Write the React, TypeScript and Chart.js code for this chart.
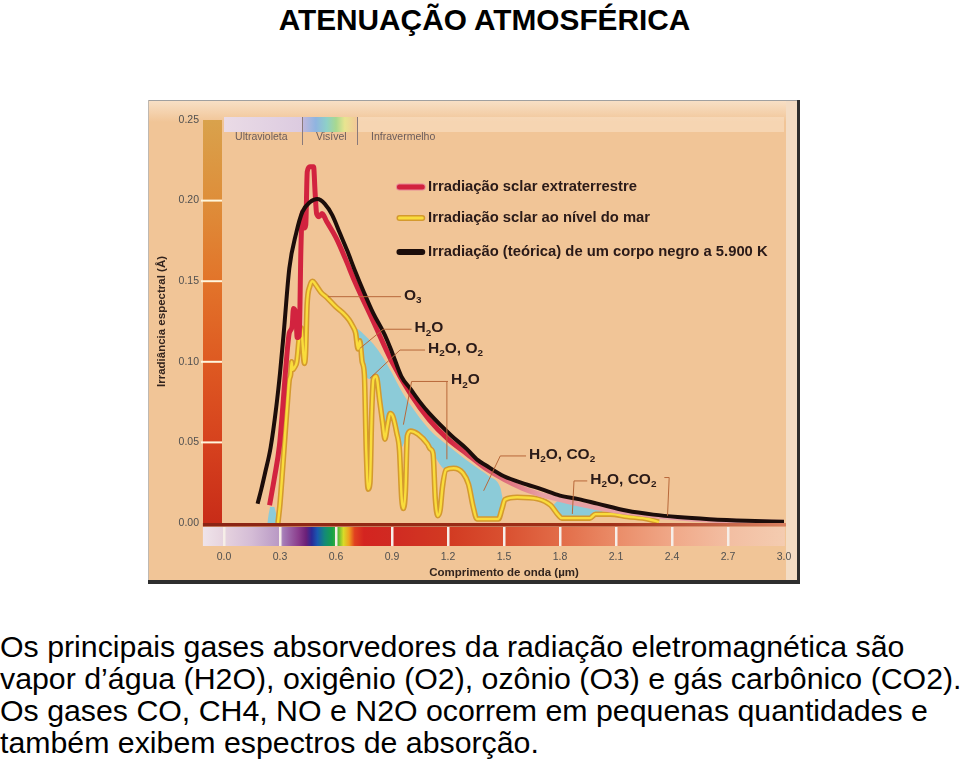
import React, { useEffect, useRef } from "react";
import { Chart, registerables } from "chart.js";

Chart.register(...registerables);

const FONT = '"Liberation Sans", Arial, Helvetica, sans-serif';

// ---------- axis ticks ----------
const xTicks = [0, 0.3, 0.6, 0.9, 1.2, 1.5, 1.8, 2.1, 2.4, 2.7, 3.0];
const xTickLabels = ["0.0", "0.3", "0.6", "0.9", "1.2", "1.5", "1.8", "2.1", "2.4", "2.7", "3.0"];
const yTicks = [0, 0.05, 0.1, 0.15, 0.2, 0.25];
const yTickLabels = ["0.00", "0.05", "0.10", "0.15", "0.20", "0.25"];

// ---------- black body 5900 K ----------
const blackX = [0.18, 0.2, 0.22, 0.25, 0.28, 0.3, 0.32, 0.35, 0.387, 0.42, 0.46, 0.5, 0.54, 0.58, 0.62, 0.66, 0.7, 0.75, 0.8, 0.86, 0.9, 0.95, 1.0, 1.05, 1.1, 1.22, 1.3, 1.36, 1.4, 1.5, 1.62, 1.7, 1.8, 1.9, 2.0, 2.16, 2.3, 2.43, 2.6, 2.8, 3.0];
const blackY = [0.012, 0.021, 0.031, 0.047, 0.072, 0.093, 0.118, 0.158, 0.18, 0.193, 0.199, 0.201, 0.198, 0.191, 0.18, 0.169, 0.157, 0.143, 0.13, 0.117, 0.106, 0.091, 0.083, 0.075, 0.068, 0.054, 0.046, 0.039, 0.036, 0.029, 0.024, 0.021, 0.017, 0.0148, 0.012, 0.0076, 0.0052, 0.0037, 0.0024, 0.0014, 0.0008];

// ---------- extraterrestrial solar irradiance ----------
const solarX = [0.244, 0.27, 0.297, 0.315, 0.333, 0.35, 0.365, 0.372, 0.385, 0.392, 0.403, 0.412, 0.42, 0.43, 0.438, 0.446, 0.46, 0.48, 0.488, 0.496, 0.51, 0.525, 0.55, 0.6, 0.65, 0.7, 0.8, 0.9, 1.0, 1.1, 1.2, 1.3, 1.4, 1.6, 1.8, 2.0, 2.2, 2.4, 2.7, 3.0];
const solarY = [0.011, 0.028, 0.048, 0.072, 0.099, 0.118, 0.122, 0.133, 0.13, 0.115, 0.116, 0.17, 0.193, 0.183, 0.185, 0.218, 0.221, 0.221, 0.205, 0.192, 0.19, 0.192, 0.187, 0.177, 0.164, 0.15, 0.125, 0.1, 0.08, 0.064, 0.052, 0.043, 0.034, 0.0215, 0.0145, 0.0095, 0.006, 0.0034, 0.0012, 0.0004];

// ---------- sea level solar irradiance ----------
const seaX = [0.289, 0.3, 0.315, 0.323, 0.34, 0.35, 0.357, 0.362, 0.368, 0.38, 0.39, 0.405, 0.415, 0.422, 0.43, 0.437, 0.445, 0.46, 0.475, 0.49, 0.52, 0.55, 0.6, 0.64, 0.67, 0.69, 0.705, 0.718, 0.728, 0.74, 0.752, 0.762, 0.772, 0.782, 0.792, 0.8, 0.815, 0.835, 0.85, 0.862, 0.875, 0.89, 0.905, 0.925, 0.94, 0.952, 0.962, 0.972, 0.982, 1.0, 1.04, 1.09, 1.105, 1.12, 1.132, 1.145, 1.158, 1.17, 1.19, 1.23, 1.28, 1.31, 1.335, 1.355, 1.47, 1.49, 1.505, 1.57, 1.68, 1.75, 1.79, 1.81, 1.96, 1.99, 2.07, 2.16, 2.27, 2.33];
const seaY = [0.0, 0.012, 0.035, 0.048, 0.075, 0.089, 0.092, 0.1, 0.095, 0.097, 0.1, 0.117, 0.121, 0.11, 0.099, 0.105, 0.135, 0.147, 0.15, 0.148, 0.143, 0.14, 0.134, 0.13, 0.126, 0.122, 0.118, 0.108, 0.113, 0.1, 0.092, 0.045, 0.021, 0.025, 0.07, 0.089, 0.091, 0.075, 0.062, 0.052, 0.06, 0.068, 0.066, 0.056, 0.045, 0.015, 0.009, 0.02, 0.054, 0.057, 0.055, 0.049, 0.046, 0.043, 0.015, 0.0045, 0.008, 0.022, 0.033, 0.034, 0.031, 0.024, 0.01, 0.0025, 0.0025, 0.009, 0.0145, 0.016, 0.015, 0.011, 0.005, 0.003, 0.003, 0.0055, 0.0055, 0.004, 0.0025, 0.0006];

// ---------- absorbed band (upper edge of the blue area) ----------
const absorbX = [0.69, 0.705, 0.72, 0.75, 0.8, 0.85, 0.9, 0.95, 1.0, 1.1, 1.2, 1.3, 1.36, 1.42, 1.48, 1.5, 1.55, 1.7, 1.76, 1.8, 1.86, 1.92, 2.0, 2.06, 2.12];
const absorbY = [0.122, 0.121, 0.12, 0.117, 0.111, 0.103, 0.093, 0.082, 0.073, 0.058, 0.048, 0.039, 0.034, 0.029, 0.022, 0.012, 0.008, 0.008, 0.011, 0.0145, 0.0135, 0.012, 0.0085, 0.0055, 0.004];
// narrow dips of the sea-level curve that stay unshaded
const unshadedDips = [[0.755, 0.798], [0.945, 0.98], [1.125, 1.185]];
// small blue patch in the ultraviolet
const uvX = [0.232, 0.24, 0.247, 0.27, 0.283, 0.289];
const uvY = [0, 0.006, 0.01, 0.01, 0.004, 0];

// ---------- texts ----------
const legendItems = [
  { text: "Irradiação sclar extraterrestre", kind: "red" },
  { text: "Irradiação sclar ao nível do mar", kind: "yellow" },
  { text: "Irradiação (teórica) de um corpo negro a 5.900 K", kind: "black" },
];
const legendRows = [0.2084, 0.1892, 0.1681];

type Part = [string, number];
const H2O: Part[] = [["H", 0], ["2", 1], ["O", 0]];
const absorptionLabels: { text: Part[]; path: number[][]; extra?: number[][] }[] = [
  { text: [["O", 0], ["3", 1]], path: [[0.557, 0.1404], [0.948, 0.1404]] },
  { text: H2O, path: [[0.729, 0.1084], [0.853, 0.1202], [1.005, 0.1202]] },
  { text: [["H", 0], ["2", 1], ["O, O", 0], ["2", 1]], path: [[0.782, 0.0898], [0.943, 0.1073], [1.077, 0.1073]] },
  { text: H2O, path: [[0.961, 0.061], [1.005, 0.0878], [1.2, 0.0878]], extra: [[1.194, 0.0878], [1.194, 0.0395]] },
  { text: [["H", 0], ["2", 1], ["O, CO", 0], ["2", 1]], path: [[1.391, 0.02], [1.48, 0.0416], [1.618, 0.0416]] },
  { text: [["H", 0], ["2", 1], ["O, CO", 0], ["2", 1]], path: [[1.866, 0.0056], [1.875, 0.0261], [1.946, 0.0261]], extra: [[2.359, 0.0282], [2.385, 0.0282], [2.376, 0.0045]] },
];

const bandLabels = [
  { text: "Ultravioleta", x: 0.2 },
  { text: "Visível", x: 0.575 },
  { text: "Infravermelho", x: 0.96 },
];

const bodyLines = [
  "Os principais gases absorvedores da radiação eletromagnética são",
  "vapor d’água (H2O), oxigênio (O2), ozônio (O3) e gás carbônico (CO2).",
  "Os gases CO, CH4, NO e N2O ocorrem em pequenas quantidades e",
  "também exibem espectros de absorção.",
];

const pts = (xs: number[], ys: number[]) => xs.map((x, i) => ({ x, y: ys[i] }));

const CYAN = "#8ccbd8";
const TAN = "#f1c597";

function drawRich(ctx: CanvasRenderingContext2D, parts: Part[], x: number, y: number, size: number) {
  let cx = x;
  for (const [t, sub] of parts) {
    const s = sub ? size * 0.64 : size;
    ctx.font = `bold ${s}px ${FONT}`;
    ctx.fillText(t, cx, sub ? y + size * 0.22 : y);
    cx += ctx.measureText(t).width;
  }
}

const decorPlugin = {
  id: "decor",
  beforeDraw(chart: any) {
    const { ctx, chartArea, scales } = chart;
    const xs = scales.x;
    const ys = scales.y;
    const W = chart.width;
    const H = chart.height;
    const px = (v: number) => xs.getPixelForValue(v);
    const py = (v: number) => ys.getPixelForValue(v);
    ctx.save();
    // background
    ctx.fillStyle = TAN;
    ctx.fillRect(0, 0, W, H);
    const topG = ctx.createLinearGradient(0, 0, 0, 22);
    topG.addColorStop(0, "rgba(250,232,212,0.8)");
    topG.addColorStop(1, "rgba(250,232,212,0)");
    ctx.fillStyle = topG;
    ctx.fillRect(0, 0, W, 22);
    ctx.fillStyle = "#f3dcc4";
    ctx.fillRect(chartArea.right + 2, 0, W - chartArea.right - 2, H);

    // top band: UV / visible / IR
    const bTop = chartArea.top - 3;
    const bH = 15;
    const uvG = ctx.createLinearGradient(px(0), 0, px(0.418), 0);
    uvG.addColorStop(0, "#eadbe6");
    uvG.addColorStop(1, "#dccbe0");
    ctx.fillStyle = uvG;
    ctx.fillRect(px(0), bTop, px(0.418) - px(0), bH);
    const visG = ctx.createLinearGradient(px(0.418), 0, px(0.712), 0);
    visG.addColorStop(0, "#c4b8dc");
    visG.addColorStop(0.25, "#8fb4e0");
    visG.addColorStop(0.45, "#8ed0c8");
    visG.addColorStop(0.62, "#a8d890");
    visG.addColorStop(0.78, "#e8e490");
    visG.addColorStop(1, "#f4c898");
    ctx.fillStyle = visG;
    ctx.fillRect(px(0.418), bTop, px(0.712) - px(0.418), bH);
    ctx.fillStyle = "rgba(250,225,200,0.55)";
    ctx.fillRect(px(0.712), bTop, chartArea.right - px(0.712), bH);
    ctx.strokeStyle = "#8a7a7a";
    ctx.lineWidth = 1;
    for (const v of [0.418, 0.712]) {
      ctx.beginPath();
      ctx.moveTo(Math.round(px(v)) + 0.5, bTop);
      ctx.lineTo(Math.round(px(v)) + 0.5, chartArea.top + 25);
      ctx.stroke();
    }
    ctx.fillStyle = "#6a5c5c";
    ctx.font = `10.5px ${FONT}`;
    ctx.textBaseline = "middle";
    ctx.textAlign = "center";
    for (const b of bandLabels) ctx.fillText(b.text, px(b.x), chartArea.top + 17);

    // left vertical scale bar
    const barL = chartArea.left - 21;
    const barW = 19;
    const vg = ctx.createLinearGradient(0, py(0.25), 0, py(0));
    vg.addColorStop(0, "#d9a24c");
    vg.addColorStop(0.2, "#de8e3a");
    vg.addColorStop(0.4, "#e2742a");
    vg.addColorStop(0.6, "#de5a22");
    vg.addColorStop(0.8, "#d6421e");
    vg.addColorStop(1, "#c82c18");
    ctx.fillStyle = vg;
    ctx.fillRect(barL, py(0.25), barW, py(0) - py(0.25));
    ctx.strokeStyle = "#fff6dc";
    ctx.lineWidth = 2;
    for (const v of yTicks.slice(1, 5)) {
      ctx.beginPath();
      ctx.moveTo(barL - 2, py(v));
      ctx.lineTo(barL + barW, py(v));
      ctx.stroke();
    }

    // bottom spectral bar
    const x0 = px(-0.113);
    const x1 = px(3.005);
    const sg = ctx.createLinearGradient(x0, 0, x1, 0);
    const stops: [number, string][] = [
      [-0.113, "#efe4ea"], [0.0, "#e6d3df"], [0.15, "#d4bcd6"], [0.3, "#b898c4"], [0.32, "#a57ab6"],
      [0.4, "#8a3c8c"], [0.44, "#6a2078"], [0.47, "#2a2a98"], [0.5, "#1a58b0"], [0.54, "#138a78"],
      [0.58, "#18a048"], [0.61, "#50b838"], [0.64, "#d8dc28"], [0.67, "#f0a020"], [0.7, "#e04020"],
      [0.75, "#d42420"], [0.9, "#d02a22"], [1.2, "#d23a22"], [1.5, "#d95030"], [1.8, "#e26c48"],
      [2.1, "#ea8c68"], [2.4, "#f0a888"], [2.7, "#f3bea2"], [3.005, "#f4ccb0"],
    ];
    for (const [v, c] of stops) sg.addColorStop((px(v) - x0) / (x1 - x0), c);
    ctx.fillStyle = sg;
    ctx.fillRect(x0, chartArea.bottom + 4, x1 - x0, 19);
    ctx.fillStyle = "#f6eee8";
    for (const v of xTicks.slice(0, 10)) ctx.fillRect(px(v) - 1, chartArea.bottom + 4, 2.5, 19);
    const lg = ctx.createLinearGradient(x0, 0, chartArea.right, 0);
    lg.addColorStop(0, "#8a2414");
    lg.addColorStop(0.7, "#a03018");
    lg.addColorStop(1, "#d88060");
    ctx.fillStyle = lg;
    ctx.fillRect(x0, chartArea.bottom, chartArea.right - x0 + 2, 3.5);
    ctx.restore();
  },
  afterDatasetsDraw(chart: any) {
    const { ctx, scales, width: W, height: H } = chart;
    const px = (v: number) => scales.x.getPixelForValue(v);
    const py = (v: number) => scales.y.getPixelForValue(v);
    ctx.save();
    // leader lines and labels
    ctx.strokeStyle = "#b8683a";
    ctx.lineWidth = 1;
    ctx.fillStyle = "#2a1a18";
    ctx.textAlign = "left";
    ctx.textBaseline = "alphabetic";
    for (const a of absorptionLabels) {
      for (const path of [a.path, a.extra]) {
        if (!path) continue;
        ctx.beginPath();
        path.forEach(([x, y], i) => (i ? ctx.lineTo(px(x), py(y)) : ctx.moveTo(px(x), py(y))));
        ctx.stroke();
      }
      const end = a.path[a.path.length - 1];
      drawRich(ctx, a.text, px(end[0]) + 3, py(end[1]) + 3, 15.5);
    }
    // legend
    legendItems.forEach((item, i) => {
      const y = py(legendRows[i]);
      const xa = px(0.94);
      const xb = px(1.062);
      ctx.lineCap = "round";
      const seg = (color: string, w: number) => {
        ctx.strokeStyle = color;
        ctx.lineWidth = w;
        ctx.beginPath();
        ctx.moveTo(xa, y);
        ctx.lineTo(xb, y);
        ctx.stroke();
      };
      if (item.kind === "red") { seg("#e88a98", 7); seg("#d2233f", 5); }
      if (item.kind === "yellow") { seg("#d49a2e", 6); seg("#f9dc3c", 3); }
      if (item.kind === "black") { seg("#1c0d0a", 6); }
      ctx.fillStyle = "#2a1a18";
      ctx.font = `bold 14.8px ${FONT}`;
      ctx.textBaseline = "middle";
      ctx.fillText(item.text, px(1.093), y);
    });
    // frame
    ctx.fillStyle = "#a0a0a0";
    ctx.fillRect(0, 0, W, 1);
    ctx.fillStyle = "#c0b8b0";
    ctx.fillRect(0, 0, 1, H);
    ctx.fillStyle = "#2e2e2e";
    ctx.fillRect(W - 3, 0, 3, H);
    ctx.fillRect(0, H - 4, W, 4);
    ctx.restore();
  },
};

const noPad = (s: any) => {
  s.paddingLeft = 0;
  s.paddingRight = 0;
  s.paddingTop = 0;
  s.paddingBottom = 0;
};

function SpectrumChart() {
  const ref = useRef<HTMLCanvasElement | null>(null);
  useEffect(() => {
    if (!ref.current) return;
    const floor = pts(seaX, seaY).filter((p) => !unshadedDips.some(([a, b]) => p.x > a && p.x < b));
    const chart = new Chart(ref.current, {
      type: "line",
      data: {
        datasets: [
          { label: "Corpo negro 5.900 K", data: pts(blackX, blackY), borderColor: "#1c0d0a", borderWidth: 4, cubicInterpolationMode: "monotone", fill: false },
          {
            label: "Extraterrestre",
            data: pts(solarX, solarY),
            borderColor: (c: any) => {
              const ch = c.chart;
              if (!ch.chartArea) return "#d2233f";
              const g = ch.ctx.createLinearGradient(ch.scales.x.getPixelForValue(1.2), 0, ch.scales.x.getPixelForValue(1.7), 0);
              g.addColorStop(0, "#d2233f");
              g.addColorStop(1, "#e7a0a4");
              return g;
            },
            borderWidth: 5,
            cubicInterpolationMode: "monotone",
            fill: false,
          },
          { label: "Nível do mar", data: pts(seaX, seaY), borderColor: "#f9dc3c", borderWidth: 2.4, cubicInterpolationMode: "monotone", fill: false },
          { label: "Nível do mar (borda)", data: pts(seaX, seaY), borderColor: "#d49a2e", borderWidth: 5.5, cubicInterpolationMode: "monotone", fill: false },
          { label: "Absorção", data: pts(absorbX, absorbY), borderColor: "rgba(0,0,0,0)", borderWidth: 0, cubicInterpolationMode: "monotone", fill: { target: 5, above: CYAN, below: "rgba(0,0,0,0)" } },
          { label: "piso", data: floor, borderColor: "rgba(0,0,0,0)", borderWidth: 0, cubicInterpolationMode: "monotone", fill: false },
          { label: "UV", data: pts(uvX, uvY), borderColor: "rgba(0,0,0,0)", borderWidth: 0, backgroundColor: CYAN, fill: "origin" },
        ] as any,
      },
      options: {
        animation: false,
        responsive: false,
        devicePixelRatio: 1,
        layout: { padding: { left: 0, right: 16, top: 20, bottom: 0 } },
        elements: { point: { radius: 0, hoverRadius: 0 } },
        events: [],
        plugins: { legend: { display: false }, tooltip: { enabled: false } },
        scales: {
          x: {
            type: "linear",
            min: 0,
            max: 3,
            afterBuildTicks: (s: any) => { s.ticks = xTicks.map((v) => ({ value: v })); },
            afterFit: (s: any) => { s.height = 61; noPad(s); },
            ticks: {
              autoSkip: false,
              maxRotation: 0,
              padding: 28,
              color: "#505050",
              font: { size: 10.5, family: FONT },
              callback: (_v: any, i: number) => xTickLabels[i],
            },
            grid: { display: false, drawTicks: false },
            border: { display: false },
            title: { display: true, text: "Comprimento de onda (µm)", color: "#33241e", font: { size: 11.5, weight: "bold", family: FONT }, padding: { top: 0, bottom: 4 } },
          },
          y: {
            type: "linear",
            min: 0,
            max: 0.25,
            afterBuildTicks: (s: any) => { s.ticks = yTicks.map((v) => ({ value: v })); },
            afterFit: (s: any) => { s.width = 76; noPad(s); },
            ticks: {
              padding: 25,
              color: "#505050",
              font: { size: 10.5, family: FONT },
              callback: (_v: any, i: number) => yTickLabels[i],
            },
            grid: { display: false, drawTicks: false },
            border: { display: false },
            title: { display: true, text: "Irradiância espectral (Å)", color: "#33241e", font: { size: 11.5, weight: "bold", family: FONT }, padding: { top: 7, bottom: 0 } },
          },
        },
      } as any,
      plugins: [decorPlugin],
    });
    return () => chart.destroy();
  }, []);
  return <canvas ref={ref} width={652} height={484} style={{ position: "absolute", left: 148, top: 100, width: 652, height: 484 }} />;
}

export default function App() {
  return (
    <div style={{ position: "absolute", left: 0, top: 0, width: 960, height: 773, background: "#fff", overflow: "hidden", fontFamily: FONT, color: "#000" }}>
      <div style={{ position: "absolute", left: 0, top: 5, width: 969, textAlign: "center", fontSize: 29.8, lineHeight: "29.8px", fontWeight: "bold", whiteSpace: "nowrap" }}>
        ATENUAÇÃO ATMOSFÉRICA
      </div>
      <SpectrumChart />
      {bodyLines.map((t, i) => (
        <div key={i} style={{ position: "absolute", left: 0, top: 630.6 + i * 32, fontSize: 30.3, lineHeight: "32px", whiteSpace: "nowrap" }}>
          {t}
        </div>
      ))}
    </div>
  );
}
